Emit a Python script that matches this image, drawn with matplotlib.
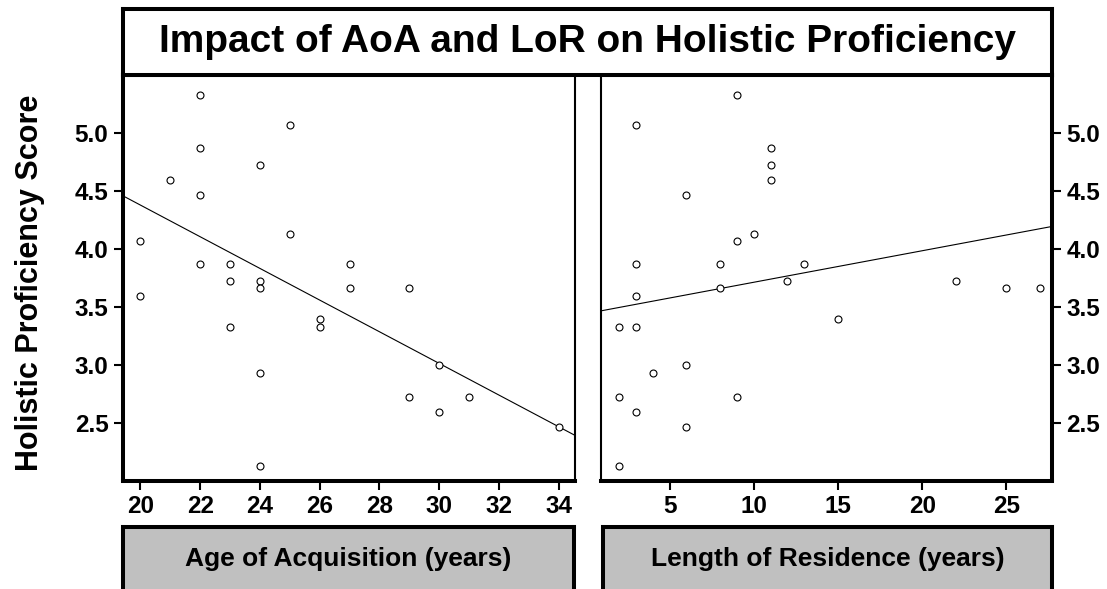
import numpy as np
import matplotlib
matplotlib.use("Agg")
import matplotlib.pyplot as plt

# Participant scores against age of acquisition (AoA)
aoa = [22, 25, 22, 24, 21, 22, 25, 20, 22, 23, 27, 23, 24, 24, 27, 29, 20,
       23, 26, 26, 24, 30, 29, 31, 30, 34, 24]
aoa_score = [5.33, 5.07, 4.87, 4.73, 4.60, 4.47, 4.13, 4.07, 3.87, 3.87, 3.87,
             3.73, 3.73, 3.67, 3.67, 3.67, 3.60, 3.33, 3.40, 3.33, 2.93, 3.00,
             2.73, 2.73, 2.60, 2.47, 2.13]

# Participant scores against length of residence (LoR)
lor = [9, 3, 11, 11, 11, 6, 10, 9, 3, 8, 13, 12, 22, 8, 25, 27, 3,
       2, 3, 15, 6, 4, 2, 9, 3, 6, 2]
lor_score = [5.33, 5.07, 4.87, 4.73, 4.60, 4.47, 4.13, 4.07, 3.87, 3.87, 3.87,
             3.73, 3.73, 3.67, 3.67, 3.67, 3.60, 3.33, 3.33, 3.40, 3.00, 2.93,
             2.73, 2.73, 2.60, 2.47, 2.13]

aoa_ticks = [20, 22, 24, 26, 28, 30, 32, 34]
lor_ticks = [5, 10, 15, 20, 25]
score_ticks = [2.5, 3.0, 3.5, 4.0, 4.5, 5.0]

title = "Impact of AoA and LoR on Holistic Proficiency"
ylabel = "Holistic Proficiency Score"
aoa_label = "Age of Acquisition (years)"
lor_label = "Length of Residence (years)"

W, H = 1107, 589
FONT = "Liberation Sans"
THICK = 2.9
THIN = 1.5

fig = plt.figure(figsize=(W / 100, H / 100), dpi=100)
fig.patch.set_facecolor("white")


def px_axes(x0, y0, x1, y1):
    """Axes placed by pixel box (top-left origin)."""
    return fig.add_axes([x0 / W, 1 - y1 / H, (x1 - x0) / W, (y1 - y0) / H])


def style_spines(ax, lw_left, lw_right, lw_top, lw_bottom):
    for side, lw in zip(["left", "right", "top", "bottom"],
                        [lw_left, lw_right, lw_top, lw_bottom]):
        ax.spines[side].set_linewidth(lw)
        ax.spines[side].set_color("black")


def scatter_panel(ax, x, y, xlim, xticks, side):
    ax.plot(x, y, linestyle="none", marker="o", markersize=5,
            markerfacecolor="white", markeredgecolor="black",
            markeredgewidth=0.8, zorder=3)
    slope, intercept = np.polyfit(x, y, 1)
    xs = np.array(xlim)
    ax.plot(xs, slope * xs + intercept, color="black", linewidth=0.8, zorder=2)
    ax.set_xlim(xlim)
    ax.set_ylim(2.007, 5.503)
    ax.set_xticks(xticks)
    ax.set_xticklabels([str(t) for t in xticks])
    ax.set_yticks(score_ticks)
    ax.set_yticklabels([f"{t:.1f}" for t in score_ticks])
    ax.tick_params(axis="x", direction="out", length=6.5, width=1.5, pad=4)
    if side == "left":
        ax.tick_params(axis="y", direction="out", length=6.5, width=1.5, pad=4,
                       left=True, right=False, labelleft=True, labelright=False)
    else:
        ax.tick_params(axis="y", direction="out", length=6.5, width=1.5, pad=4,
                       left=False, right=True, labelleft=False, labelright=True)
    for lab in ax.get_xticklabels() + ax.get_yticklabels():
        lab.set_fontfamily(FONT)
        lab.set_fontweight("bold")
        lab.set_fontsize(17.5)


# Scatter panels
ax_l = px_axes(123, 75, 575, 480.5)
scatter_panel(ax_l, aoa, aoa_score, (19.42, 34.54), aoa_ticks, "left")
style_spines(ax_l, THICK, THIN, THICK, THICK)

ax_r = px_axes(601, 75, 1052, 480.5)
scatter_panel(ax_r, lor, lor_score, (0.93, 27.71), lor_ticks, "right")
style_spines(ax_r, THIN, THICK, THICK, THICK)

# Title box
ax_t = px_axes(123, 9, 1052, 75)
ax_t.set_xticks([])
ax_t.set_yticks([])
style_spines(ax_t, THICK, THICK, THICK, THICK)
ax_t.text(0.5, 0.5, title, transform=ax_t.transAxes, ha="center", va="center",
          fontfamily=FONT, fontweight="bold", fontsize=28)

# Axis-name boxes under each panel
for (x0, x1), label in [((123, 574), aoa_label), ((603, 1052), lor_label)]:
    axb = px_axes(x0, 527, x1, 600)
    axb.set_facecolor("#c0c0c0")
    axb.set_xticks([])
    axb.set_yticks([])
    style_spines(axb, THICK, THICK, THICK, THICK)
    fig.text((x0 + x1) / 2 / W, 1 - 559 / H, label, ha="center", va="center",
             fontfamily=FONT, fontweight="bold", fontsize=19)

# Shared y-axis title
fig.text(30 / W, 1 - 283 / H, ylabel, rotation=90, ha="center", va="center",
         fontfamily=FONT, fontweight="bold", fontsize=22)

fig.savefig("out.png", dpi=100, facecolor="white")
